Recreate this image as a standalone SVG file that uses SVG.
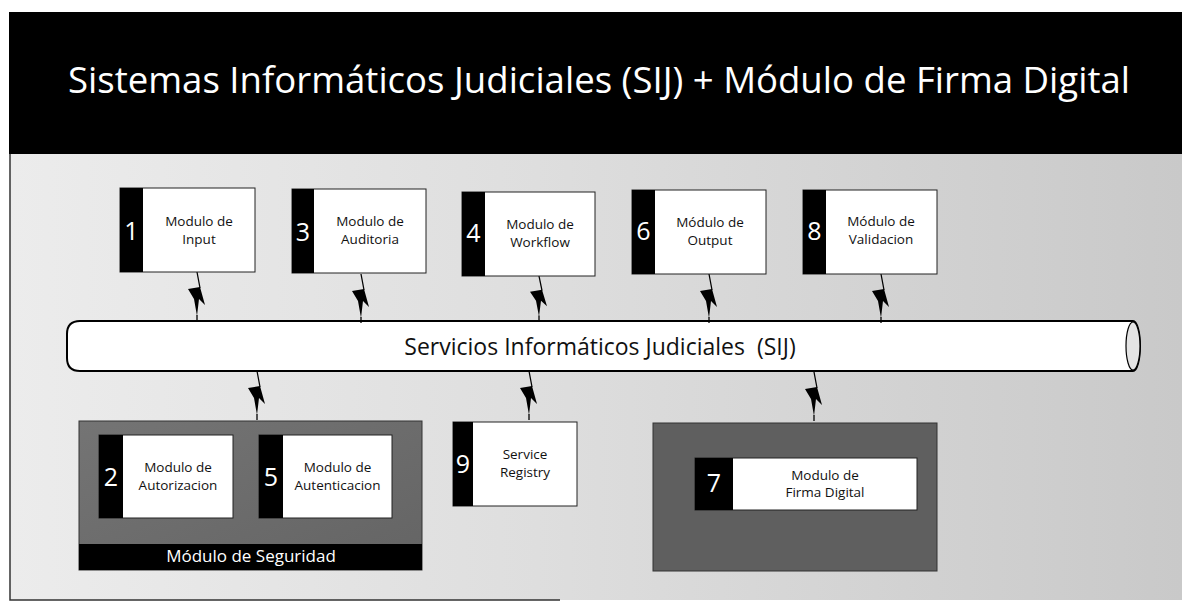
<svg xmlns="http://www.w3.org/2000/svg" xmlns:xlink="http://www.w3.org/1999/xlink" width="1182" height="606" viewBox="0 0 1182 606">
  <defs>
    <style>
      .bar { fill: #000; }
      .card { fill: #fff; stroke: #222; stroke-width: 1; }
      .num { font-family: "Open Sans", "Noto Sans", sans-serif; font-size: 25px; fill: #fff; text-anchor: middle; }
      .lbl { font-family: "Open Sans", "Noto Sans", sans-serif; font-size: 13.5px; fill: #111; text-anchor: middle; }
      .group { fill: url(#darkGrad); stroke: #333; stroke-width: 1; }
      .title { font-family: "Open Sans", "Noto Sans", sans-serif; font-size: 37px; fill: #fff; text-anchor: middle; }
      .pipeText { font-family: "Open Sans", "Noto Sans", sans-serif; font-size: 23px; fill: #111; text-anchor: middle; white-space: pre; }
      .band { font-family: "Open Sans", "Noto Sans", sans-serif; font-size: 17px; fill: #fff; text-anchor: middle; }
      .thin { stroke: #000; stroke-width: 1.3; fill: none; }
    </style>
    <linearGradient id="bgGrad" x1="0" y1="0" x2="1" y2="0">
      <stop offset="0" stop-color="#ececec"/>
      <stop offset="0.45" stop-color="#dedede"/>
      <stop offset="1" stop-color="#c9c9c9"/>
    </linearGradient>
    <linearGradient id="darkGrad" x1="0" y1="0" x2="1" y2="1">
      <stop offset="0" stop-color="#747474"/>
      <stop offset="1" stop-color="#646464"/>
    </linearGradient>
    <g id="bolt">
      <path class="thin" d="M0,0 L3,16"/>
      <path d="M-9,17 L3,15 L8,33 L2,27 L0,44 L-3,27 Z" fill="#000"/>
      <path class="thin" d="M0,43 L0,49"/>
    </g>
  </defs>

  <rect x="0" y="0" width="1182" height="606" fill="#fff"/>

  <!-- content background -->
  <rect x="10" y="154" width="1172" height="446" fill="url(#bgGrad)"/>
  <path d="M10,154 L10,600 L560,600" fill="none" stroke="#333" stroke-width="1.5"/>

  <!-- header -->
  <g id="header">
    <rect x="9" y="12" width="1173" height="142" fill="#000"/>
    <text class="title" x="599" y="93" textLength="1062" lengthAdjust="spacingAndGlyphs">Sistemas Informáticos Judiciales (SIJ) + Módulo de Firma Digital</text>
  </g>

  <!-- pipe -->
  <g id="pipe">
    <path d="M80,321 L1133,321 A7,25 0 0 1 1133,371 L80,371 Q67,371 67,358 L67,334 Q67,321 80,321 Z" fill="#fff" stroke="#000" stroke-width="2"/>
    <ellipse cx="1133" cy="346" rx="7" ry="24" fill="#e4e4e4" stroke="#000" stroke-width="1.2"/>
    <text class="pipeText" x="600" y="355" xml:space="preserve">Servicios Informáticos Judiciales  (SIJ)</text>
  </g>

  <!-- connectors -->
  <g id="connectors">
    <use xlink:href="#bolt" href="#bolt" transform="translate(197,272)"/>
    <use xlink:href="#bolt" href="#bolt" transform="translate(361,274)"/>
    <use xlink:href="#bolt" href="#bolt" transform="translate(539,276) scale(1,0.92)"/>
    <use xlink:href="#bolt" href="#bolt" transform="translate(709,274)"/>
    <use xlink:href="#bolt" href="#bolt" transform="translate(881,274)"/>
    <use xlink:href="#bolt" href="#bolt" transform="translate(257,371)"/>
    <use xlink:href="#bolt" href="#bolt" transform="translate(529,371)"/>
    <use xlink:href="#bolt" href="#bolt" transform="translate(814,372)"/>
  </g>

  <!-- top row modules -->
  <g id="node1">
    <rect class="card" x="120" y="188" width="135" height="84"/>
    <rect class="bar" x="120" y="188" width="23" height="84"/>
    <text class="num" x="131.5" y="240">1</text>
    <text class="lbl" x="199" y="226">Modulo de</text>
    <text class="lbl" x="199" y="244">Input</text>
  </g>
  <g id="node3">
    <rect class="card" x="292" y="189" width="134" height="84"/>
    <rect class="bar" x="292" y="189" width="22" height="84"/>
    <text class="num" x="303" y="241">3</text>
    <text class="lbl" x="370" y="226">Modulo de</text>
    <text class="lbl" x="370" y="244">Auditoria</text>
  </g>
  <g id="node4">
    <rect class="card" x="462" y="192" width="133" height="84"/>
    <rect class="bar" x="462" y="192" width="23" height="84"/>
    <text class="num" x="473.5" y="242">4</text>
    <text class="lbl" x="540" y="229">Modulo de</text>
    <text class="lbl" x="540" y="247">Workflow</text>
  </g>
  <g id="node6">
    <rect class="card" x="632" y="190" width="134" height="84"/>
    <rect class="bar" x="632" y="190" width="23" height="84"/>
    <text class="num" x="643.5" y="240">6</text>
    <text class="lbl" x="710" y="227">Módulo de</text>
    <text class="lbl" x="710" y="245">Output</text>
  </g>
  <g id="node8">
    <rect class="card" x="803" y="190" width="134" height="84"/>
    <rect class="bar" x="803" y="190" width="23" height="84"/>
    <text class="num" x="814.5" y="240">8</text>
    <text class="lbl" x="881" y="226">Módulo de</text>
    <text class="lbl" x="881" y="244">Validacion</text>
  </g>

  <!-- seguridad group -->
  <g id="seguridad">
    <rect class="group" x="79" y="421" width="343" height="149"/>
    <rect x="79" y="544" width="343" height="26" fill="#000"/>
    <text class="band" x="251" y="562">Módulo de Seguridad</text>
  </g>
  <g id="node2">
    <rect class="card" x="99" y="435" width="134" height="83"/>
    <rect class="bar" x="99" y="435" width="24" height="83"/>
    <text class="num" x="111" y="486">2</text>
    <text class="lbl" x="178" y="472">Modulo de</text>
    <text class="lbl" x="178" y="490">Autorizacion</text>
  </g>
  <g id="node5">
    <rect class="card" x="259" y="435" width="133" height="83"/>
    <rect class="bar" x="259" y="435" width="24" height="83"/>
    <text class="num" x="271" y="486">5</text>
    <text class="lbl" x="337.5" y="472">Modulo de</text>
    <text class="lbl" x="337.5" y="490">Autenticacion</text>
  </g>

  <g id="node9">
    <rect class="card" x="453" y="422" width="124" height="84"/>
    <rect class="bar" x="453" y="422" width="20" height="84"/>
    <text class="num" x="463" y="473">9</text>
    <text class="lbl" x="525" y="459">Service</text>
    <text class="lbl" x="525" y="477">Registry</text>
  </g>

  <!-- firma group -->
  <g id="firma">
    <rect class="group" x="653" y="423" width="284" height="148" style="fill:#5f5f5f"/>
  </g>
  <g id="node7">
    <rect class="card" x="695" y="458" width="222" height="52"/>
    <rect class="bar" x="695" y="458" width="38" height="52"/>
    <text class="num" x="714" y="492">7</text>
    <text class="lbl" x="825" y="480">Modulo de</text>
    <text class="lbl" x="825" y="497">Firma Digital</text>
  </g>
</svg>
